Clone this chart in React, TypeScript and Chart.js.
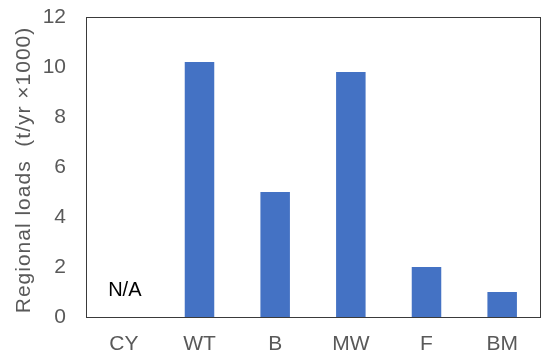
import React, { useEffect, useRef } from "react";
import { Chart, registerables } from "chart.js";

Chart.register(...registerables);

const categories = ["CY", "WT", "B", "MW", "F", "BM"];
const loads = [0, 10.2, 5.0, 9.8, 2.0, 1.0];
const yTicks = [0, 2, 4, 6, 8, 10, 12];
const yTitle = "Regional loads  (t/yr ×1000)";
const naLabel = { category: "CY", value: 0.84, text: "N/A" };

const FONT = "'Liberation Sans', Arial, sans-serif";

export default function App() {
  const ref = useRef<HTMLCanvasElement | null>(null);
  useEffect(() => {
    if (!ref.current) return;
    const framePlugin = {
      id: "frame",
      afterDraw(chart: any) {
        const { ctx, chartArea: a, scales } = chart;
        ctx.save();
        ctx.strokeStyle = "#3a3a3a";
        ctx.lineWidth = 1;
        ctx.strokeRect(
          Math.round(a.left) + 0.5,
          Math.round(a.top) + 0.5,
          Math.round(a.right - a.left),
          Math.round(a.bottom - a.top)
        );
        // N/A label
        const x = scales.x.getPixelForValue(categories.indexOf(naLabel.category));
        const y = scales.y.getPixelForValue(naLabel.value);
        ctx.fillStyle = "#000000";
        ctx.font = `20px ${FONT}`;
        ctx.textAlign = "center";
        ctx.textBaseline = "alphabetic";
        ctx.fillText(naLabel.text, x + 1, y);
        // Y axis title
        ctx.save();
        ctx.translate(30, (a.top + a.bottom) / 2 + 3);
        ctx.rotate(-Math.PI / 2);
        ctx.fillStyle = "#595959";
        ctx.font = `21px ${FONT}`;
        (ctx as any).letterSpacing = "1px";
        ctx.textAlign = "center";
        ctx.textBaseline = "alphabetic";
        ctx.fillText(yTitle, 0, 0);
        ctx.restore();
        ctx.restore();
      },
    };
    const chart = new Chart(ref.current, {
      type: "bar",
      data: {
        labels: categories,
        datasets: [
          {
            data: loads,
            backgroundColor: "#4472C4",
            categoryPercentage: 1,
            barPercentage: 0.39,
          },
        ],
      },
      options: {
        animation: false,
        responsive: false,
        maintainAspectRatio: false,
        layout: { padding: { top: 17, right: 10, left: 0, bottom: 0 } },
        plugins: { legend: { display: false }, tooltip: { enabled: false } },
        scales: {
          x: {
            grid: { display: false, drawTicks: false },
            border: { display: false },
            ticks: { color: "#595959", font: { family: FONT, size: 21 }, padding: 15, maxRotation: 0 },
            afterFit(scale: any) {
              scale.height = 44;
              scale.paddingLeft = 0;
              scale.paddingRight = 0;
            },
          },
          y: {
            min: 0,
            max: 12,
            grid: { display: false, drawTicks: false },
            border: { display: false },
            afterBuildTicks(scale: any) {
              scale.ticks = yTicks.map((v) => ({ value: v }));
            },
            ticks: { color: "#595959", font: { family: FONT, size: 21 }, padding: 20 },
            afterFit(scale: any) {
              scale.width = 86;
              scale.paddingTop = 0;
              scale.paddingBottom = 0;
            },
          },
        },
      },
      plugins: [framePlugin],
    });
    return () => chart.destroy();
  }, []);
  return (
    <div style={{ position: "fixed", left: 0, top: 0, width: 550, height: 361, background: "#fff" }}>
      <canvas ref={ref} width={550} height={361} style={{ width: 550, height: 361 }} />
    </div>
  );
}
